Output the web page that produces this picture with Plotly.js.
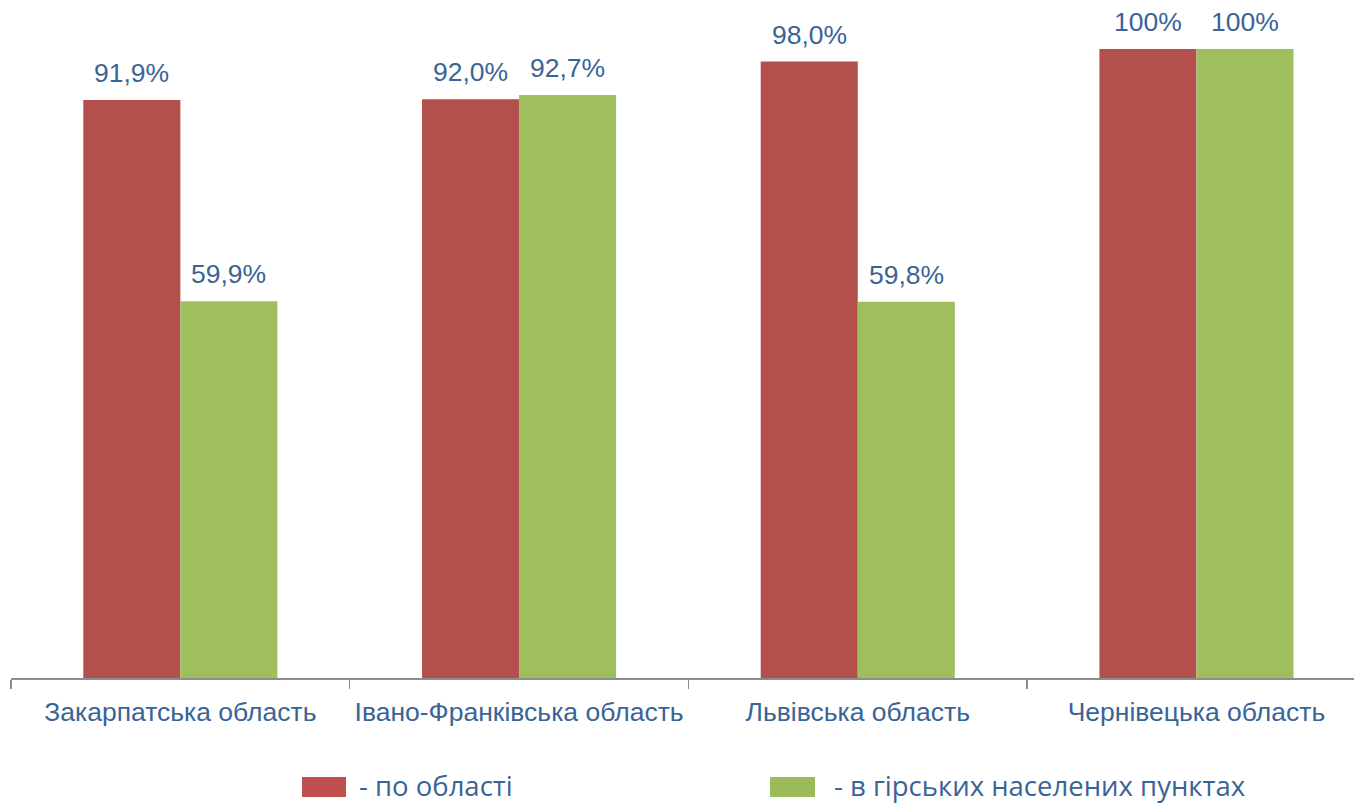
<!DOCTYPE html>
<html><head><meta charset="utf-8">
<script src="https://cdn.plot.ly/plotly-3.0.1.min.js"></script>
<style>html,body{margin:0;padding:0;background:#fff;}#chart{width:1354px;height:803px;}</style>
</head><body><div id="chart"></div>
<script>
const categories = ["Закарпатська область", "Івано-Франківська область", "Львівська область", "Чернівецька область"];
const regionValues = [91.9, 92.0, 98.0, 100];
const mountainValues = [59.9, 92.7, 59.8, 100];
const seriesNames = ["- по області", "- в гірських населених пунктах"];

const textColor = "#3A6496";
const fmt = v => v === 100 ? "100%" : v.toFixed(1).replace(".", ",") + "%";

const W = 1354, H = 803, L = 11, B = 125;
const plotW = W - L, plotH = H - B;
const catPx = 338.7;
const xEnd = -0.5 + plotW / catPx;
const yMax = plotH / 6.29;

const traces = [
  {type: "bar", x: categories, y: regionValues, name: seriesNames[0], marker: {color: "#B3504D"}, hoverinfo: "none"},
  {type: "bar", x: categories, y: mountainValues, name: seriesNames[1], marker: {color: "#9FBE5E"}, hoverinfo: "none"}
];

const annotations = [];
[regionValues, mountainValues].forEach((vals, s) => {
  vals.forEach((v, i) => {
    annotations.push({x: categories[i], y: v, xref: "x", yref: "y", text: fmt(v), showarrow: false,
      xshift: s === 0 ? -48.5 : 48.5, yanchor: "bottom", yshift: 10,
      font: {family: "Liberation Sans, Arial", size: 26.5, color: textColor}});
  });
});

const px2x = p => (p - L) / plotW;
const px2y = p => (plotH - p) / plotH;
const legendItems = [
  {x0: 302, x1: 346, tx: 357, color: "#C0504D"},
  {x0: 770, x1: 815, tx: 832, color: "#9BBB59"}
];
const shapes = [];
legendItems.forEach((it, k) => {
  shapes.push({type: "rect", xref: "paper", yref: "paper", x0: px2x(it.x0), x1: px2x(it.x1), y0: px2y(797), y1: px2y(777),
    fillcolor: it.color, line: {width: 0}});
  annotations.push({xref: "paper", yref: "paper", x: px2x(it.tx), y: px2y(785), xanchor: "left", yanchor: "middle",
    text: seriesNames[k], showarrow: false, font: {family: "Open Sans", size: 27.5, color: textColor}});
});

const layout = {
  width: W, height: H,
  margin: {l: L, r: 0, t: 0, b: B},
  paper_bgcolor: "#fff", plot_bgcolor: "#fff",
  showlegend: false,
  barmode: "group", bargap: 0.427, bargroupgap: 0,
  xaxis: {type: "category", range: [-0.5, xEnd], showline: true, linecolor: "#8C8C8C", linewidth: 1.5,
    ticks: "outside", tickson: "boundaries", ticklen: 9, tickcolor: "#8C8C8C", tickwidth: 1.5,
    ticklabelstandoff: 10,
    tickfont: {family: "Liberation Sans, Arial", size: 26.5, color: textColor}, showgrid: false, zeroline: false, fixedrange: true},
  yaxis: {range: [0, yMax], visible: false, showgrid: false, zeroline: false, fixedrange: true},
  annotations: annotations, shapes: shapes
};
Plotly.newPlot("chart", traces, layout, {displayModeBar: false, staticPlot: true});
</script></body></html>
